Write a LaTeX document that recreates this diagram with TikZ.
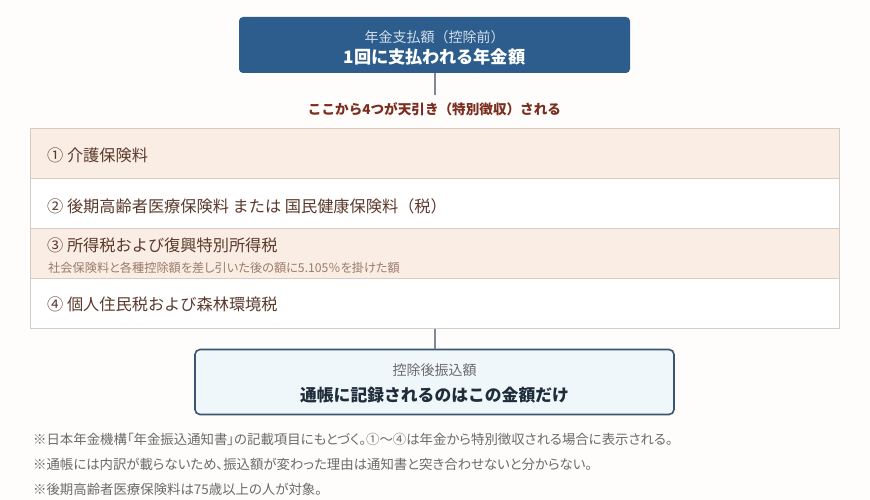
\documentclass[tikz,border=0pt]{standalone}
\usepackage{fontspec}
\setmainfont{Noto Sans CJK JP}
\newfontfamily\palfont[RawFeature=+palt]{Noto Sans CJK JP}
\definecolor{topblue}{HTML}{2C5D8C}
\definecolor{toplight}{HTML}{D3DFEB}
\definecolor{redbrown}{HTML}{7B2E1F}
\definecolor{rowfill}{HTML}{F9EDE4}
\definecolor{rowline}{HTML}{D9CBC2}
\definecolor{outline}{HTML}{D2CCC7}
\definecolor{rowtext}{HTML}{5B3A2C}
\definecolor{subtext}{HTML}{9A7B6B}
\definecolor{botfill}{HTML}{F0F7FB}
\definecolor{botline}{HTML}{3A5570}
\definecolor{bottext}{HTML}{1F2D3A}
\definecolor{graytext}{HTML}{6A6A6A}
\definecolor{conn}{HTML}{7F8A94}
\definecolor{bg}{HTML}{FEFDFB}
\tikzset{
  rowbox/.style={draw=rowline, line width=0.8pt, minimum width=809pt, minimum height=50pt, inner sep=0pt, anchor=north west},
  rowlabel/.style={anchor=west, inner sep=0pt, text=rowtext, font=\fontsize{16.2}{19}\selectfont},
  foot/.style={anchor=west, inner sep=0pt, text=graytext, font=\palfont\fontsize{13.4}{15}\selectfont},
  connector/.style={draw=conn, line width=2pt},
}
\begin{document}
\begin{tikzpicture}[x=1pt,y=-1pt]
\fill[bg] (0,0) rectangle (870,500);
\useasboundingbox (0,0) rectangle (870,500);
% top box
\node[fill=topblue, rounded corners=4pt, minimum width=391pt, minimum height=56pt, inner sep=0pt] (top) at (434.5,45) {};
\node[text=toplight, inner sep=0pt, font=\fontsize{14}{16}\selectfont] (toplbl1) at (434.5,37) {年金支払額（控除前）};
\node[text=white, inner sep=0pt, font=\bfseries\fontsize{17.2}{20}\selectfont] (toplbl2) at (434.5,57) {1回に支払われる年金額};
% label
\node[text=redbrown, inner sep=0pt, font=\bfseries\fontsize{13.6}{16}\selectfont] (lbl) at (434.5,109) {ここから4つが天引き（特別徴収）される};
\coordinate (lbltop) at (434.5,95);
\draw[connector] (top.south) -- (lbltop);
% rows
\node[rowbox, fill=rowfill] (r1) at (30,128) {};
\node[rowbox, fill=white] (r2) at (30,178) {};
\node[rowbox, fill=rowfill] (r3) at (30,228) {};
\node[rowbox, fill=white] (r4) at (30,278) {};
\draw[outline, line width=0.9pt] (r1.north west) rectangle (r4.south east);
\node[rowlabel] (t1) at (47,155) {① 介護保険料};
\node[rowlabel] (t2) at (47,206) {② 後期高齢者医療保険料 または 国民健康保険料（税）};
\node[rowlabel] (t3) at (47,245) {③ 所得税および復興特別所得税};
\node[anchor=west, inner sep=0pt, text=subtext, font=\palfont\fontsize{12.2}{14}\selectfont] (t3s) at (48,268) {社会保険料と各種控除額を差し引いた後の額に5.105％を掛けた額};
\node[rowlabel] (t4) at (47,304) {④ 個人住民税および森林環境税};
% bottom box
\node[fill=botfill, draw=botline, line width=1.6pt, rounded corners=5pt, minimum width=479pt, minimum height=65pt, inner sep=0pt] (bot) at (434.5,382) {};
\node[text=graytext, inner sep=0pt, font=\fontsize{14}{16}\selectfont] (botlbl1) at (434.5,370) {控除後振込額};
\node[text=bottext, inner sep=0pt, font=\bfseries\fontsize{16.8}{20}\selectfont] (botlbl2) at (434.5,395) {通帳に記録されるのはこの金額だけ};
\coordinate (tblbot) at (434.5,328.5);
\draw[connector] (tblbot) -- (bot.north);
% footnotes
\node[foot] (f1) at (33,439) {※日本年金機構「年金振込通知書」の記載項目にもとづく。①〜④は年金から特別徴収される場合に表示される。};
\node[foot] (f2) at (33,464) {※通帳には内訳が載らないため、振込額が変わった理由は通知書と突き合わせないと分からない。};
\node[foot] (f3) at (33,489) {※後期高齢者医療保険料は75歳以上の人が対象。};
\end{tikzpicture}
\end{document}
